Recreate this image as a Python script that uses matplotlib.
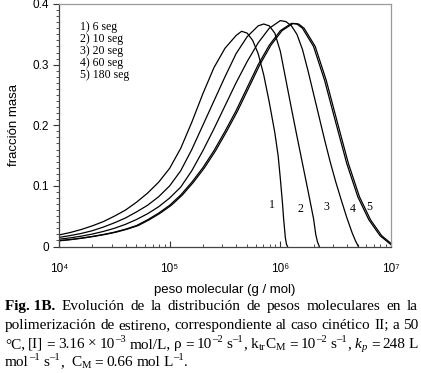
import numpy as np
import matplotlib
matplotlib.use("Agg")
import matplotlib.pyplot as plt
from matplotlib.ticker import MultipleLocator, LogLocator, NullFormatter

# ---------------- data (log10 of molecular weight, mass fraction) ----------------
logM_1 = [4.0, 4.1, 4.2, 4.3, 4.4, 4.5, 4.6, 4.7, 4.8, 4.9, 5.0, 5.1, 5.2, 5.3, 5.4, 5.5, 5.6, 5.65,
          5.7, 5.75, 5.8, 5.85, 5.9, 5.95, 5.98, 6.0, 6.02, 6.03, 6.045, 6.055, 6.065]
w_1    = [0.019, 0.023, 0.028, 0.034, 0.041, 0.050, 0.060, 0.073, 0.088, 0.106, 0.129, 0.162, 0.205, 0.252, 0.295, 0.327, 0.348, 0.355,
          0.352, 0.340, 0.318, 0.283, 0.238, 0.188, 0.150, 0.112, 0.070, 0.045, 0.015, 0.004, 0.0]

logM_2 = [4.0, 4.1, 4.2, 4.3, 4.4, 4.5, 4.6, 4.7, 4.8, 4.9, 5.0, 5.1, 5.2, 5.3, 5.4, 5.5, 5.6, 5.7, 5.8, 5.85,
          5.9, 5.95, 6.0, 6.05, 6.1, 6.15, 6.2, 6.25, 6.3, 6.32, 6.335, 6.352]
w_2    = [0.015, 0.018, 0.0215, 0.026, 0.032, 0.039, 0.047, 0.057, 0.068, 0.082, 0.100, 0.125, 0.160, 0.200, 0.240, 0.280, 0.318, 0.346, 0.364, 0.367,
          0.364, 0.352, 0.322, 0.275, 0.228, 0.182, 0.137, 0.092, 0.046, 0.020, 0.008, 0.0]

logM_3 = [4.0, 4.1, 4.2, 4.3, 4.4, 4.5, 4.6, 4.7, 4.8, 4.9, 5.0, 5.1, 5.2, 5.3, 5.4, 5.5, 5.6, 5.7, 5.8, 5.9, 6.0,
          6.05, 6.1, 6.15, 6.2, 6.25, 6.3, 6.35, 6.4, 6.45, 6.5, 6.55, 6.6, 6.65, 6.68, 6.705]
w_3    = [0.012, 0.0142, 0.017, 0.0205, 0.0248, 0.030, 0.0365, 0.0445, 0.054, 0.0655, 0.080, 0.098, 0.125, 0.158, 0.194, 0.232, 0.270, 0.305, 0.336, 0.360, 0.3726,
          0.371, 0.364, 0.350, 0.325, 0.290, 0.252, 0.214, 0.176, 0.140, 0.107, 0.077, 0.048, 0.022, 0.009, 0.0]

logM_4 = [4.0, 4.1, 4.2, 4.3, 4.4, 4.5, 4.6, 4.7, 4.8, 4.9, 5.0, 5.1, 5.2, 5.3, 5.4, 5.5, 5.6, 5.7, 5.8, 5.9, 6.0,
          6.1, 6.15, 6.2, 6.3, 6.4, 6.5, 6.6, 6.7, 6.8, 6.9, 7.0]
w_4    = [0.0096, 0.0115, 0.0138, 0.0166, 0.0198, 0.0236, 0.0285, 0.0345, 0.044, 0.055, 0.068, 0.085, 0.106, 0.130, 0.158, 0.190, 0.224, 0.262, 0.300, 0.332, 0.356,
          0.368, 0.367, 0.360, 0.330, 0.274, 0.205, 0.137, 0.082, 0.044, 0.018, 0.003]

logM_5 = [4.0, 4.115, 4.215, 4.315, 4.415, 4.515, 4.615, 4.715, 4.815, 4.915, 5.015, 5.115, 5.215, 5.315, 5.415, 5.515, 5.615, 5.715, 5.815, 5.915, 6.015,
          6.115, 6.165, 6.215, 6.315, 6.415, 6.515, 6.615, 6.715, 6.815, 6.915, 7.0]
w_5    = [0.0094, 0.0115, 0.0138, 0.0166, 0.0198, 0.0236, 0.0285, 0.0345, 0.044, 0.055, 0.068, 0.085, 0.106, 0.130, 0.158, 0.190, 0.224, 0.262, 0.300, 0.332, 0.356,
          0.368, 0.367, 0.360, 0.330, 0.274, 0.205, 0.137, 0.082, 0.044, 0.018, 0.005]

curve_labels = ['1', '2', '3', '4', '5']
legend_lines = ['1) 6 seg', '2) 10 seg', '3) 20 seg', '4) 60 seg', '5) 180 seg']
xtick_vals = [1e4, 1e5, 1e6, 1e7]
xtick_labels = ['10\u2074', '10\u2075', '10\u2076', '10\u2077']
ytick_vals = [0, 0.1, 0.2, 0.3, 0.4]
ytick_labels = ['0', '0.1', '0.2', '0.3', '0.4']

# ---------------- figure ----------------
W, H = 421, 373
fig = plt.figure(figsize=(W / 100, H / 100), dpi=100)
ax = fig.add_axes([59 / W, 1 - 246.5 / H, (391 - 59) / W, (246.5 - 4) / H])

sans = ['Liberation Sans', 'DejaVu Sans']
serif = ['Liberation Serif', 'DejaVu Serif']

for lm, w in [(logM_1, w_1), (logM_2, w_2), (logM_3, w_3), (logM_4, w_4), (logM_5, w_5)]:
    ax.plot(10 ** np.array(lm), w, color='black', lw=0.9, solid_joinstyle='round')

ax.set_xscale('log')
ax.set_xlim(1e4, 1e7)
ax.set_ylim(0, 0.4)

ax.set_xticks(xtick_vals, labels=xtick_labels, family=sans, fontsize=8.5)
ax.xaxis.set_minor_locator(LogLocator(base=10, subs=np.arange(2, 10)))
ax.xaxis.set_minor_formatter(NullFormatter())
ax.set_yticks(ytick_vals, labels=ytick_labels, family=sans, fontsize=8.5)
ax.yaxis.set_minor_locator(MultipleLocator(0.01))

ax.tick_params(axis='x', which='major', direction='in', length=4, width=0.8, pad=12, colors='#333333')
ax.tick_params(axis='x', which='minor', direction='in', length=2.5, width=0.6, colors='#333333')
ax.tick_params(axis='y', which='major', direction='out', length=4, width=0.8, pad=3, colors='#333333')
ax.tick_params(axis='y', which='minor', direction='out', length=2.5, width=0.6, colors='#333333')
for lbl in ax.get_xticklabels() + ax.get_yticklabels():
    lbl.set_color('black')

for s in ['left', 'bottom']:
    ax.spines[s].set_color('#444444')
    ax.spines[s].set_linewidth(0.9)
for s in ['top', 'right']:
    ax.spines[s].set_color('#999999')
    ax.spines[s].set_linewidth(0.9)

ax.set_xlabel('peso molecular (g / mol)', family=sans, fontsize=9.5, labelpad=6.5)
ax.set_ylabel('fracción masa', family=sans, fontsize=9.5, labelpad=9)

# legend text block
for i, t in enumerate(legend_lines):
    fig.text(80 / W, 1 - (27 + 12 * i) / H, t, family=serif, fontsize=8.5, va='center', ha='left')

# curve number labels
label_px = [(272, 205), (300, 209), (326, 207), (353, 209), (369, 207)]
for t, (px, py) in zip(curve_labels, label_px):
    fig.text(px / W, 1 - py / H, t, family=serif, fontsize=8.5, va='center', ha='center')

# ---------------- caption (justified, manual super/subscripts) ----------------
D = '\u2013'
def w_(s):
    return [(s, 'n')]
caption = [
    ([[('Fig. 1B.', 'b')], w_('Evolución'), w_('de'), w_('la'), w_('distribución'), w_('de'), w_('pesos'),
      w_('moleculares'), w_('en'), w_('la')], True),
    ([w_('polimerización'), w_('de'), w_('estireno,'), w_('correspondiente'), w_('al'), w_('caso'),
      w_('cinético'), w_('II;'), w_('a'), w_('50')], True),
    ([w_('°C,'), w_('[I]'), w_('='), w_('3.16'), w_('×'), [('10', 'n'), (D + '3', 'sup')], w_('mol/L,'),
      w_('ρ'), w_('='), [('10', 'n'), (D + '2', 'sup')], [('s', 'n'), (D + '1', 'sup'), (',', 'n')],
      [('k', 'n'), ('tr', 'sub'), ('C', 'n'), ('M', 'sub')], w_('='), [('10', 'n'), (D + '2', 'sup')],
      [('s', 'n'), (D + '1', 'sup'), (',', 'n')], [('k', 'i'), ('p', 'isub')], w_('='), w_('248'), w_('L')], True),
    ([[('mol', 'n'), (D + '1', 'sup')], [('s', 'n'), (D + '1', 'sup'), (',', 'n')],
      [('C', 'n'), ('M', 'sub')], w_('='), w_('0.66'), w_('mol'), [('L', 'n'), (D + '1', 'sup'), ('.', 'n')]], False),
]
fs = 11
px_per_pt = 100 / 72
props = {
    'n':    (fs, 0.0, 'normal', 'normal'),
    'b':    (fs, 0.0, 'bold', 'normal'),
    'i':    (fs, 0.0, 'normal', 'italic'),
    'sup':  (fs * 0.7, fs * px_per_pt * 0.36, 'normal', 'normal'),
    'sub':  (fs * 0.7, -fs * px_per_pt * 0.15, 'normal', 'normal'),
    'isub': (fs * 0.7, -fs * px_per_pt * 0.15, 'normal', 'italic'),
}
fig.canvas.draw()
renderer = fig.canvas.get_renderer()
x0, x1 = 5, 418
line_base = [310, 329, 348, 366]
for (words, justify), yy in zip(caption, line_base):
    word_objs = []
    for word in words:
        segs = []
        for txt, kind in word:
            size, dy, weight, style = props[kind]
            o = fig.text(0, 1 - (yy - dy) / H, txt, family=serif, fontsize=size, va='baseline', ha='left',
                         fontweight=weight, fontstyle=style)
            wd = o.get_window_extent(renderer).width
            if kind in ('sub', 'isub', 'sup'):
                wd += 0.6
            segs.append((o, wd))
        word_objs.append(segs)
    wwidths = [sum(wd for _, wd in segs) for segs in word_objs]
    if justify:
        gap = (x1 - x0 - sum(wwidths)) / (len(words) - 1)
    else:
        gap = 3.3
    x = x0
    for k, segs in enumerate(word_objs):
        if not justify and k == 2:
            x += 3.3
        xs = x
        for o, wd in segs:
            o.set_x(xs / W)
            xs += wd
        x += wwidths[k] + gap

fig.savefig('out.png', dpi=100)
